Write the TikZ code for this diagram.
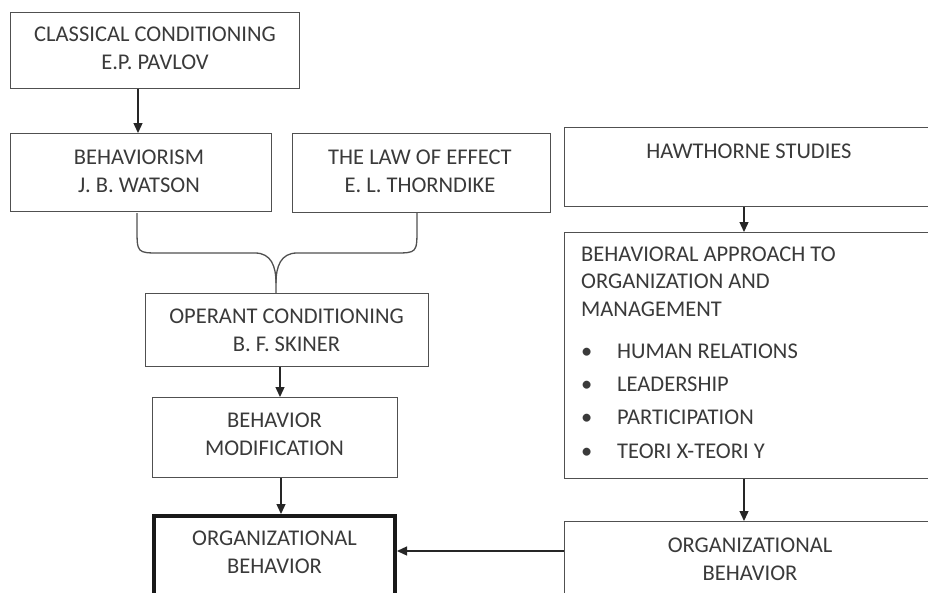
\documentclass[tikz,border=0pt]{standalone}
\usepackage{fontspec}
\setmainfont{Carlito}
\usetikzlibrary{arrows.meta,calc}
\definecolor{txt}{HTML}{3A3A3A}
\definecolor{edge}{HTML}{505050}
\begin{document}
\begin{tikzpicture}[x=1pt,y=-1pt,
  box/.style={draw=edge,line width=1.4pt,inner sep=0pt,anchor=north west},
  thickbox/.style={draw=black!90,line width=4pt,inner sep=0pt,anchor=north west},
  lbl/.style={inner sep=0pt,text=txt,font=\fontsize{22.5}{28}\selectfont,align=center},
  arr/.style={draw=black!85,line width=1.3pt,-{Triangle[length=10pt,width=9pt]}},
  brace/.style={draw=edge,line width=1.3pt}]
\useasboundingbox[fill=white] (0,0) rectangle (928,592);

% boxes
\node[box,minimum width=289pt,minimum height=76pt] (cc) at (10,12) {};
\node[box,minimum width=261pt,minimum height=78pt] (bw) at (10,133) {};
\node[box,minimum width=258pt,minimum height=79pt] (le) at (292,133) {};
\node[box,minimum width=380pt,minimum height=79pt] (hs) at (564,127) {};
\node[box,minimum width=380pt,minimum height=246pt] (ba) at (564,232) {};
\node[box,minimum width=283pt,minimum height=73pt] (oc) at (145,293) {};
\node[box,minimum width=245pt,minimum height=80pt] (bm) at (152,397) {};
\node[thickbox,minimum width=241pt,minimum height=100pt] (obL) at (152,514) {};
\node[box,minimum width=380pt,minimum height=100pt] (obR) at (564,521) {};

% texts
\node[lbl] (tcc) at (155,48) {CLASSICAL CONDITIONING\\E.P. PAVLOV};
\node[lbl] (tbw) at (139,171) {BEHAVIORISM\\J. B. WATSON};
\node[lbl] (tle) at (420,171) {THE LAW OF EFFECT\\E. L. THORNDIKE};
\node[lbl] (ths) at (749,151) {HAWTHORNE STUDIES};
\node[lbl] (toc) at (286.5,330) {OPERANT CONDITIONING\\B. F. SKINER};
\node[lbl] (tbm) at (274.5,434) {BEHAVIOR\\MODIFICATION};
\node[lbl] (tol) at (274.5,552.5) {ORGANIZATIONAL\\BEHAVIOR};
\node[lbl] (tor) at (750,559) {ORGANIZATIONAL\\BEHAVIOR};
\node[lbl,align=left,anchor=west,font=\fontsize{22.5}{27.5}\selectfont] (tba) at (581,281.5)
  {BEHAVIORAL APPROACH TO\\ORGANIZATION AND\\MANAGEMENT};
\node[lbl,align=left,anchor=west,font=\fontsize{22.5}{33.3}\selectfont] (tbl) at (581,401)
  {\makebox[36pt][l]{\textbullet}HUMAN RELATIONS\\
   \makebox[36pt][l]{\textbullet}LEADERSHIP\\
   \makebox[36pt][l]{\textbullet}PARTICIPATION\\
   \makebox[36pt][l]{\textbullet}TEORI X-TEORI Y};

% helper coordinates
\coordinate (ax1) at (138,0);
\coordinate (ax2) at (280,0);
\coordinate (ax3) at (281,0);
\coordinate (ax4) at (744,0);
\coordinate (hy) at (0,551);
\coordinate (bl) at (137,213);
\coordinate (br) at (417,213);
\coordinate (bx) at (276,0);

% arrows
\draw[arr] (cc.south -| ax1) -- (bw.north -| ax1);
\draw[arr] (oc.south -| ax2) -- (bm.north -| ax2);
\draw[arr] (bm.south -| ax3) -- (obL.north -| ax3);
\draw[arr] (hs.south -| ax4) -- (ba.north -| ax4);
\draw[arr] (ba.south -| ax4) -- (obR.north -| ax4);
\draw[arr] (obR.west |- hy) -- (obL.east |- hy);

% brace
\draw[brace] (bl) -- (137,228) .. controls (137,253) .. (160,253) -- (255,253)
  .. controls (271,253) and (276,266) .. (276,283) -- (oc.north -| bx);
\draw[brace] (br) -- (417,228) .. controls (417,253) .. (394,253) -- (297,253)
  .. controls (281,253) and (276,266) .. (276,283);
\end{tikzpicture}
\end{document}
